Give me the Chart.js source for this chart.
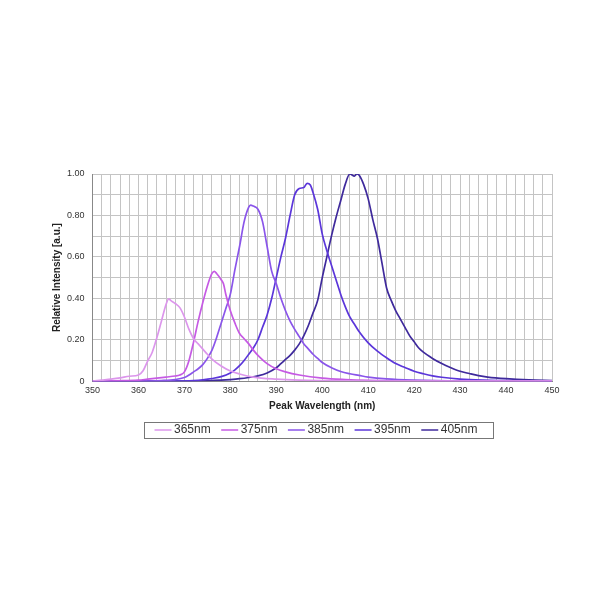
<!DOCTYPE html>
<html>
<head>
<meta charset="utf-8">
<script src="https://cdn.jsdelivr.net/npm/chart.js@4/dist/chart.umd.min.js"></script>
<style>
  html, body { margin: 0; padding: 0; background: #fff; }
  #wrap { position: absolute; left: 0; top: 0; width: 600px; height: 600px; }
</style>
</head>
<body>
<div id="wrap"><canvas id="spectra" width="600" height="600"></canvas></div>
<script>
// Spectra (wavelength nm / relative intensity)
const seriesNames = ['365nm', '375nm', '385nm', '395nm', '405nm'];
const seriesColors = ['#dc96ec', '#c65ae4', '#8a55ea', '#5b36da', '#3f2a9c'];

const wl365 = [350, 352, 354, 356, 358, 360, 361, 362, 363, 364, 365, 366, 366.6, 367, 368, 369, 370, 371, 372, 373, 374, 375, 376, 378, 380, 382, 385, 390, 395, 400, 410, 450];
const int365 = [0, 0.005, 0.01, 0.016, 0.024, 0.03, 0.05, 0.097, 0.14, 0.21, 0.29, 0.37, 0.398, 0.39, 0.375, 0.355, 0.31, 0.25, 0.205, 0.18, 0.155, 0.13, 0.107, 0.073, 0.049, 0.035, 0.02, 0.01, 0.005, 0.003, 0.001, 0];

const wl375 = [350, 355, 360, 362, 364, 366, 368, 369, 370, 371, 372, 373, 374, 375, 376, 376.5, 377, 378, 378.5, 379, 380, 381, 382, 383, 384, 385, 386, 388, 390, 392, 395, 400, 405, 410, 420, 450];
const int375 = [0, 0.002, 0.005, 0.01, 0.015, 0.02, 0.025, 0.03, 0.045, 0.1, 0.19, 0.29, 0.38, 0.46, 0.52, 0.53, 0.52, 0.49, 0.47, 0.42, 0.34, 0.28, 0.23, 0.205, 0.18, 0.15, 0.125, 0.085, 0.06, 0.045, 0.03, 0.015, 0.008, 0.004, 0.001, 0];

const wl385 = [350, 360, 365, 368, 370, 371, 372, 373, 374, 375, 376, 377, 378, 379, 380, 381, 382, 383, 384, 384.4, 385, 386, 387, 388, 389, 390, 391, 392, 393, 394, 395, 396, 397, 398, 399, 400, 402, 404, 406, 408, 410, 414, 420, 430, 450];
const int385 = [0, 0, 0.003, 0.008, 0.018, 0.03, 0.045, 0.06, 0.08, 0.11, 0.15, 0.21, 0.28, 0.35, 0.42, 0.54, 0.65, 0.77, 0.84, 0.85, 0.845, 0.83, 0.77, 0.65, 0.53, 0.47, 0.4, 0.34, 0.29, 0.25, 0.215, 0.18, 0.155, 0.13, 0.11, 0.09, 0.065, 0.047, 0.036, 0.028, 0.02, 0.011, 0.005, 0.001, 0];

const wl395 = [350, 365, 370, 372, 374, 376, 378, 380, 381, 382, 383, 384, 385, 386, 387, 388, 389, 390, 391, 392, 393, 394, 395, 396, 396.7, 397.4, 398, 399, 400, 401, 402, 403, 404, 405, 406, 407, 408, 410, 412, 414, 416, 418, 420, 422, 424, 426, 430, 435, 440, 450];
const int395 = [0, 0, 0.001, 0.003, 0.007, 0.013, 0.022, 0.04, 0.055, 0.075, 0.1, 0.13, 0.16, 0.2, 0.26, 0.32, 0.4, 0.5, 0.6, 0.69, 0.8, 0.9, 0.93, 0.935, 0.955, 0.947, 0.91, 0.83, 0.71, 0.63, 0.56, 0.49, 0.42, 0.36, 0.31, 0.275, 0.24, 0.185, 0.145, 0.113, 0.085, 0.066, 0.048, 0.036, 0.026, 0.019, 0.01, 0.005, 0.003, 0];

const wl405 = [350, 370, 375, 378, 380, 382, 384, 386, 388, 390, 391, 392, 393, 394, 395, 396, 397, 398, 399, 400, 401, 402, 403, 404, 405, 406, 407, 407.5, 408, 409, 410, 411, 412, 413, 414, 415, 416, 417, 418, 419, 420, 421, 422, 424, 426, 428, 430, 432, 434, 436, 440, 445, 450];
const int405 = [0, 0, 0.002, 0.005, 0.008, 0.012, 0.018, 0.026, 0.04, 0.065, 0.085, 0.105, 0.125, 0.15, 0.18, 0.22, 0.27, 0.33, 0.39, 0.5, 0.6, 0.7, 0.79, 0.87, 0.95, 1.0, 0.99, 1.0, 0.995, 0.95, 0.88, 0.78, 0.69, 0.57, 0.45, 0.39, 0.34, 0.3, 0.26, 0.22, 0.19, 0.16, 0.14, 0.11, 0.085, 0.065, 0.048, 0.037, 0.027, 0.02, 0.012, 0.006, 0.003];

const wavelengths = [wl365, wl375, wl385, wl395, wl405];
const intensities = [int365, int375, int385, int395, int405];

// Axis ticks
const xMin = 350, xMax = 450, xStep = 2, xLabelEvery = 10;
const yMin = 0, yMax = 1, yStep = 0.1;
const yLabels = { 0: '0', 0.2: '0.20', 0.4: '0.40', 0.6: '0.60', 0.8: '0.80', 1: '1.00' };

const FONT = '"Liberation Sans", Arial, Helvetica, sans-serif';
const LEGEND_START = 158; // x where the first legend marker starts in the original
const LEGEND_LIFT = 2;

// legend sits a bit right of centre in the original, and has a frame
const legendFrame = {
    id: 'legendFrame',
    afterUpdate(chart) {
        const lg = chart.legend;
        if (!lg || !lg.legendHitBoxes || !lg.legendHitBoxes.length) return;
        const d = LEGEND_START - lg.legendHitBoxes[0].left;
        lg.left += d;
        lg.right += d;
        lg.top -= LEGEND_LIFT;
        lg.bottom -= LEGEND_LIFT;
        lg.legendHitBoxes.forEach(b => { b.left += d; b.top -= LEGEND_LIFT; });
    },
    afterDraw(chart) {
        const lg = chart.legend;
        if (!lg || !lg.legendHitBoxes || !lg.legendHitBoxes.length) return;
        const boxes = lg.legendHitBoxes;
        const last = boxes[boxes.length - 1];
        const left = boxes[0].left - 14;
        const right = last.left + last.width + 16;
        const top = boxes[0].top - 2;
        const bottom = boxes[0].top + boxes[0].height + 2;
        const ctx = chart.ctx;
        ctx.save();
        ctx.strokeStyle = '#777';
        ctx.lineWidth = 1;
        ctx.strokeRect(Math.round(left) + 0.5, Math.round(top) + 0.5, Math.round(right - left), Math.round(bottom - top));
        ctx.restore();
    }
};

const datasets = seriesNames.map((name, i) => ({
    label: name,
    data: wavelengths[i].map((w, j) => ({ x: w, y: intensities[i][j] })),
    borderColor: seriesColors[i],
    backgroundColor: seriesColors[i],
    borderWidth: 1.7,
    pointRadius: 0,
    fill: false,
    cubicInterpolationMode: 'monotone'
}));

new Chart(document.getElementById('spectra').getContext('2d'), {
    type: 'line',
    data: { datasets },
    options: {
        responsive: false,
        animation: false,
        layout: { padding: { left: 42, right: 48, top: 174, bottom: 152 } },
        plugins: {
            legend: {
                position: 'bottom',
                labels: {
                    usePointStyle: true,
                    pointStyle: 'line',
                    boxWidth: 10,
                    padding: 14,
                    color: '#333',
                    font: { family: FONT, size: 12 }
                }
            },
            tooltip: { enabled: false }
        },
        scales: {
            x: {
                type: 'linear',
                min: xMin,
                max: xMax,
                border: { color: '#888', width: 1 },
                grid: { color: '#c4c4c4', lineWidth: 1, drawTicks: false },
                ticks: {
                    stepSize: xStep,
                    autoSkip: false,
                    maxRotation: 0,
                    padding: 4,
                    color: '#333',
                    font: { family: FONT, size: 9 },
                    callback: v => (v % xLabelEvery === 0 ? String(v) : '')
                },
                title: {
                    display: true,
                    text: 'Peak Wavelength (nm)',
                    color: '#222',
                    padding: { top: 0, bottom: 0 },
                    font: { family: FONT, size: 10, weight: 'bold' }
                }
            },
            y: {
                min: yMin,
                max: yMax,
                afterFit: scale => { scale.width -= 4; },
                border: { color: '#888', width: 1 },
                grid: { color: '#c4c4c4', lineWidth: 1, drawTicks: false },
                ticks: {
                    stepSize: yStep,
                    autoSkip: false,
                    padding: 8,
                    color: '#333',
                    font: { family: FONT, size: 9 },
                    callback: v => {
                        const k = Math.round(v * 10) / 10;
                        return yLabels[k] !== undefined ? yLabels[k] : '';
                    }
                },
                title: {
                    display: true,
                    text: 'Relative Intensity [a.u.]',
                    color: '#222',
                    padding: { top: 9, bottom: 0 },
                    font: { family: FONT, size: 10, weight: 'bold' }
                }
            }
        }
    },
    plugins: [legendFrame]
});
</script>
</body>
</html>
